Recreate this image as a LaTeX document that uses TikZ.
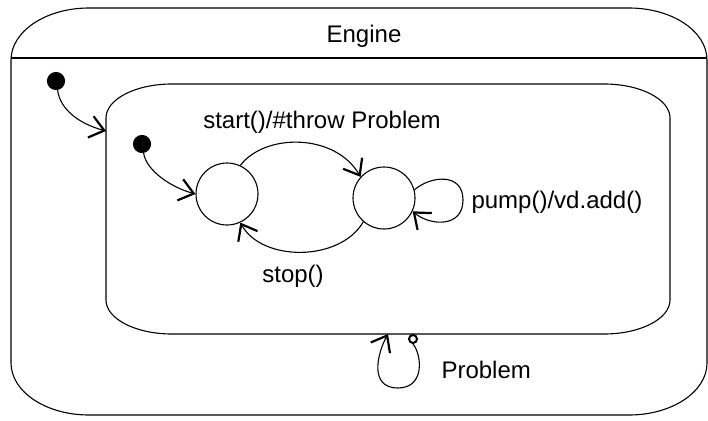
\documentclass[tikz,border=0pt]{standalone}
\usepackage{fontspec}
\setmainfont{Liberation Sans}
\usetikzlibrary{arrows.meta}
\begin{document}
\begin{tikzpicture}[x=1pt,y=-1pt,
  line width=1.1pt,
  lbl/.style={inner sep=0pt, anchor=base, font=\fontsize{24}{28}\selectfont},
  initdot/.style={circle, fill=black, draw=black, minimum size=17pt, inner sep=0pt},
  statecirc/.style={circle, draw=black, minimum size=62pt, inner sep=0pt},
  junct/.style={circle, draw=black, line width=2pt, fill=white, minimum size=8pt, inner sep=0pt},
  trans/.style={-{Straight Barb[length=14pt,width=22pt,line width=2.2pt]}},
]
\useasboundingbox (0,0) rectangle (708,420);
% outer state
\draw (11,363) -- (11,60) arc[start angle=180,end angle=90,x radius=78pt,y radius=52pt]
  -- (629,8) arc[start angle=90,end angle=0,x radius=78pt,y radius=52pt]
  -- (707,363) arc[start angle=0,end angle=-90,x radius=78pt,y radius=52pt]
  -- (89,415) arc[start angle=270,end angle=180,x radius=78pt,y radius=52pt] -- cycle;
\draw (11,58) -- (707,58);
\node[lbl] (engine) at (364,42) {Engine};
% inner state
\draw (106,300) -- (106,118) arc[start angle=180,end angle=90,x radius=66pt,y radius=34pt]
  -- (604,84) arc[start angle=90,end angle=0,x radius=66pt,y radius=34pt]
  -- (670,300) arc[start angle=0,end angle=-90,x radius=66pt,y radius=34pt]
  -- (172,334) arc[start angle=270,end angle=180,x radius=66pt,y radius=34pt] -- cycle;
\coordinate (innerL) at (106,131);
\coordinate (innerB) at (388,334);
% nodes
\node[initdot] (i1) at (56,81) {};
\node[initdot] (i2) at (142,144) {};
\node[statecirc] (s1) at (227,194) {};
\node[statecirc] (s2) at (384,198) {};
\node[junct] (pj) at (413,339) {};
% transitions
\draw[trans] (i1.-80) .. controls (60,110) and (80,124) .. (innerL);
\draw[trans] (i2.-80) .. controls (146,170) and (170,187) .. (s1.west);
\draw[trans] (s1.65) .. controls (265,133) and (335,133) .. (s2.138);
\draw[trans] (s2.229) .. controls (340,262) and (262,262) .. (s1.295);
\draw[trans] (s2.15) .. controls (430,176) and (463,172) .. (463,200) .. controls (463,228) and (430,226) .. (s2.-25);
\draw[trans] (pj.south) .. controls (422,355) and (425,388) .. (398,388) .. controls (368,388) and (378,352) .. (innerB);
% labels
\node[lbl] (lstart) at (322,128) {start()/\#throw Problem};
\node[lbl] (lstop) at (293,282) {stop()};
\node[lbl, anchor=base west] (lpump) at (471,208) {pump()/vd.add()};
\node[lbl, anchor=base west] (lprob) at (441,378) {Problem};
\end{tikzpicture}
\end{document}
